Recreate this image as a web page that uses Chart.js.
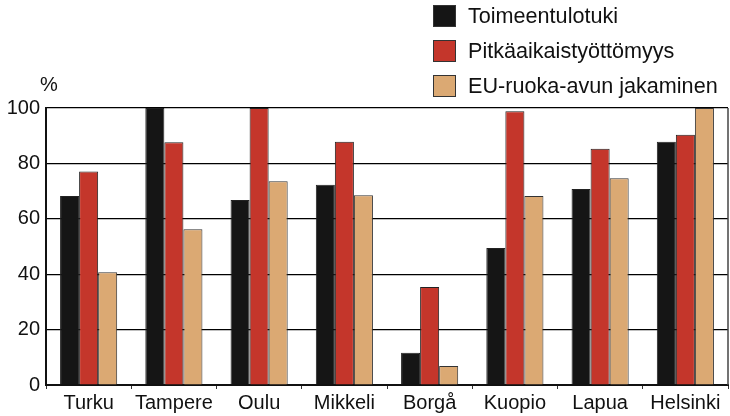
<!DOCTYPE html>
<html>
<head>
<meta charset="utf-8">
<script src="https://cdn.jsdelivr.net/npm/chart.js@4.4.0/dist/chart.umd.min.js"></script>
<style>
  html, body { margin: 0; padding: 0; background: #fff; }
  #wrap { width: 730px; height: 416px; }
</style>
</head>
<body>
<div id="wrap"><canvas id="barChart"></canvas></div>
<script>
const cities = ["Turku", "Tampere", "Oulu", "Mikkeli", "Borgå", "Kuopio", "Lapua", "Helsinki"];
const toimeentulotuki = [68.2, 100, 66.8, 72.3, 11.6, 49.5, 70.8, 87.8];
const pitkaaikaistyottomyys = [77.1, 87.6, 100, 87.8, 35.4, 98.8, 85.3, 90.3];
const euRuokaapu = [40.7, 56.2, 73.6, 68.5, 6.9, 68.2, 74.6, 100];
const yTicks = [0, 20, 40, 60, 80, 100];

const font = "'Liberation Sans', Arial, Helvetica, sans-serif";

// vertical legend + "%" label + right frame line
const extras = {
  id: "extras",
  afterDraw(chart) {
    const ctx = chart.ctx;
    const area = chart.chartArea;
    ctx.save();
    ctx.strokeStyle = "#444";
    ctx.lineWidth = 1.5;
    ctx.beginPath();
    ctx.moveTo(area.right, area.top);
    ctx.lineTo(area.right, area.bottom);
    ctx.stroke();

    ctx.font = "20px " + font;
    ctx.fillStyle = "#111";
    ctx.textBaseline = "middle";
    ctx.textAlign = "center";
    ctx.fillText("%", 49, 85);

    ctx.font = "21.6px " + font;
    ctx.textAlign = "left";
    chart.data.datasets.forEach((ds, i) => {
      const y = 16 + i * 35;
      ctx.fillStyle = ds.backgroundColor;
      ctx.fillRect(433, y - 11, 23, 22);
      ctx.strokeStyle = "#333";
      ctx.lineWidth = 1;
      ctx.strokeRect(433.5, y - 10.5, 22, 21);
      ctx.fillStyle = "#111";
      ctx.fillText(ds.label, 468, y + 1);
    });
    ctx.restore();
  }
};

new Chart("barChart", {
  type: "bar",
  data: {
    labels: cities,
    datasets: [
      {
        label: "Toimeentulotuki",
        backgroundColor: "#151515",
        borderColor: "#222",
        borderWidth: 1,
        data: toimeentulotuki,
      },
      {
        label: "Pitkäaikaistyöttömyys",
        backgroundColor: "#c4362b",
        borderColor: "#222",
        borderWidth: 1,
        data: pitkaaikaistyottomyys,
      },
      {
        label: "EU-ruoka-avun jakaminen",
        backgroundColor: "#dba973",
        borderColor: "#333",
        borderWidth: 1,
        data: euRuokaapu,
      },
    ],
  },
  options: {
    responsive: true,
    maintainAspectRatio: false,
    animation: false,
    layout: { padding: { top: 108, right: 2, left: 0, bottom: 0 } },
    datasets: { bar: { categoryPercentage: 0.67, barPercentage: 1.0 } },
    plugins: {
      legend: { display: false },
      tooltip: { enabled: false },
    },
    scales: {
      x: {
        grid: { offset: true, drawOnChartArea: false, drawTicks: true, tickLength: 4, color: "#333" },
        border: { color: "#111", width: 2 },
        ticks: { color: "#111", font: { family: font, size: 20 }, padding: 2, maxRotation: 0 },
        afterFit(scale) { scale.height = 31; },
      },
      y: {
        min: 0,
        max: 100,
        afterBuildTicks(scale) { scale.ticks = yTicks.map(v => ({ value: v })); },
        grid: { color: "#000", lineWidth: 1.2, drawTicks: false },
        border: { color: "#111", width: 2 },
        ticks: { color: "#111", font: { family: font, size: 20 }, padding: 6 },
        afterFit(scale) { scale.width = 46; },
      },
    },
  },
  plugins: [extras],
});
</script>
</body>
</html>
